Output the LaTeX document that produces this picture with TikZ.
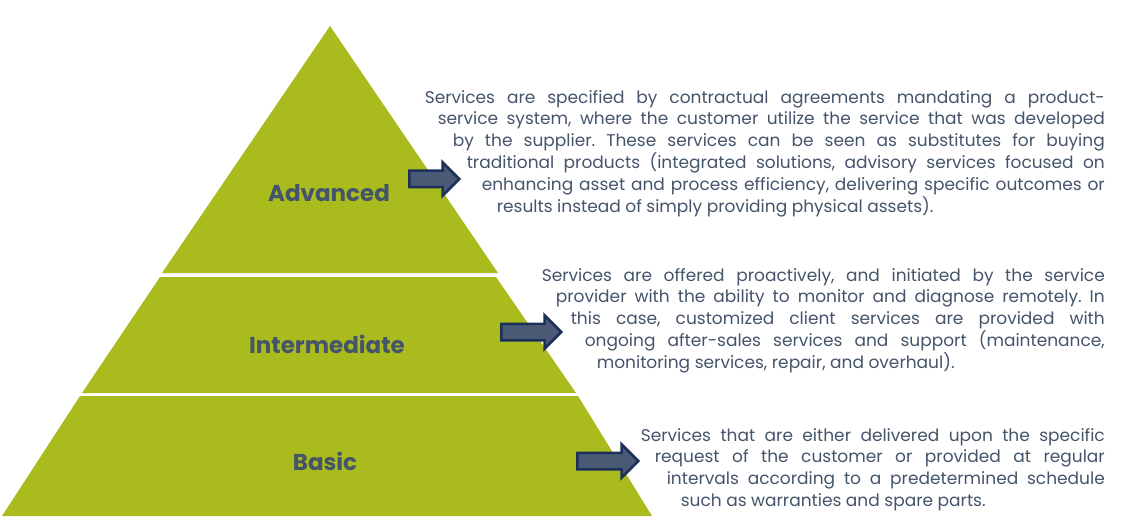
\documentclass[tikz,border=0pt]{standalone}
\usepackage{fontspec}
\setmainfont{Poppins}
\usetikzlibrary{shapes.arrows}
\definecolor{pyrgreen}{RGB}{170,187,30}
\definecolor{labelblue}{RGB}{68,84,106}
\definecolor{arrowfill}{RGB}{74,90,116}
\definecolor{arrowline}{RGB}{28,48,90}
% justified block whose lines follow the slope of the pyramid
\newcommand{\slopetext}[2]{\vbox{\hsize=680pt \leftskip=0pt \rightskip=0pt
  \parfillskip=0pt plus 1fil \tolerance=10000 \frenchspacing
  \noindent\parshape #1 #2\par}}
\tikzset{
x=1pt, y=-1pt, % one unit is one pixel of the reference, y downwards
tier/.style={fill=pyrgreen, draw=none}, % the parts of the pyramid
level/.style={font=\bfseries\fontsize{23}{27}\selectfont, text=labelblue}, % name of a tier
pointer/.style={single arrow, draw=arrowline, fill=arrowfill, line width=2.5pt, inner sep=7pt,
  single arrow head extend=8.5pt, minimum height=#1, anchor=west}, % arrow out of a tier
info/.style={inner sep=0pt, anchor=north east, text=labelblue,
  font=\fontsize{17}{21.8}\selectfont}, % description at the right
}

\begin{document}
\begin{tikzpicture}
  \useasboundingbox (0,0) rectangle (1145,521);

  % Tiers
  \fill[tier] (330,26) -- (498,273) -- (162,273) -- cycle;
  \fill[tier] (160,277) -- (496,277) -- (576,393) -- (82,393) -- cycle;
  \fill[tier] (80,396) -- (578,396) -- (652,516) -- (2,516) -- cycle;

  % Labels
  \node[level] (adv) at (329,193) {Advanced};
  \node[level] (int) at (327,344) {Intermediate};
  \node[level] (bas) at (325,461) {Basic};

  % Arrows
  \node[pointer=50pt] (arradv) at (408,179) {};
  \node[pointer=60pt] (arrint) at (500,332) {};
  \node[pointer=61pt] (arrbas) at (576,461) {};

  % Descriptions
  \node[info] (txtadv) at (1105,90) {\slopetext{6 0pt 680pt 13pt 667pt 28pt 652pt 42pt 638pt 57pt 623pt 72pt 608pt}{%
    Services are specified by contractual agreements mandating a product-\linebreak
    service system, where the customer utilize the service that was developed\linebreak
    by the supplier. These services can be seen as substitutes for buying\linebreak
    traditional products (integrated solutions, advisory services focused on\linebreak
    enhancing asset and process efficiency, delivering specific outcomes or\linebreak
    results instead of simply providing physical assets).}};
  \node[info] (txtint) at (1105,268) {\slopetext{5 117pt 563pt 131pt 549pt 146pt 534pt 160pt 520pt 172pt 508pt}{%
    Services are offered proactively, and initiated by the service\linebreak
    provider with the ability to monitor and diagnose remotely. In\linebreak
    this case, customized client services are provided with\linebreak
    ongoing after-sales services and support (maintenance,\linebreak
    monitoring services, repair, and overhaul).}};
  \node[info] (txtbas) at (1105,428) {\slopetext{4 216pt 464pt 230pt 450pt 242pt 438pt 256pt 424pt}{%
    Services that are either delivered upon the specific\linebreak
    request of the customer or provided at regular\linebreak
    intervals according to a predetermined schedule\linebreak
    such as warranties and spare parts.}};
\end{tikzpicture}
\end{document}
